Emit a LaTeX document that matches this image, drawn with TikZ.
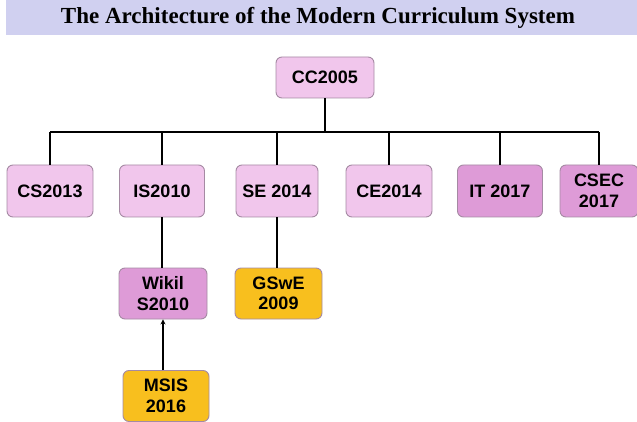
\documentclass[tikz,border=0pt]{standalone}
\usepackage{fontspec}
\setmainfont{Liberation Serif}
\setsansfont{Liberation Sans}
\usetikzlibrary{arrows.meta}
\definecolor{band}{HTML}{D0D0F0}
\definecolor{pinklight}{HTML}{F1C6EC}
\definecolor{pinkdark}{HTML}{DE9BD7}
\definecolor{amber}{HTML}{F8BF1E}
\definecolor{boxline}{HTML}{A58AA3}
\tikzset{
  unit/.style={draw=boxline, line width=0.9pt, rounded corners=6pt, align=center,
    font=\sffamily\bfseries\fontsize{18}{20.5}\selectfont, inner sep=0pt,
    minimum height=52pt, text=black},
  std/.style={unit, fill=pinklight},
  newer/.style={unit, fill=pinkdark},
  grad/.style={unit, fill=amber},
  link/.style={black, line width=2pt},
}
\begin{document}
\begin{tikzpicture}[x=1pt,y=-1pt]
\useasboundingbox (0,0) rectangle (637,422);
% title band
\fill[band] (6,0) rectangle (637,35);
\node[font=\bfseries\fontsize{23}{26}\selectfont] (title) at (318,18) {The Architecture of the Modern Curriculum System};
% root
\node[std, minimum width=98pt, minimum height=41pt] (cc) at (325,77.5) {CC2005};
% second level
\node[std, minimum width=86pt] (cs) at (50,191) {CS2013};
\node[std, minimum width=85pt] (is) at (162,191) {IS2010};
\node[std, minimum width=82pt] (se) at (277,191) {SE 2014};
\node[std, minimum width=86pt] (ce) at (389,191) {CE2014};
\node[newer, minimum width=85pt] (it) at (500,191) {IT 2017};
\node[newer, minimum width=78pt] (csec) at (599,191) {CSEC\\2017};
% third level
\node[newer, minimum width=88pt, minimum height=51pt] (wiki) at (163,293.5) {Wikil\\S2010};
\node[grad, minimum width=87pt, minimum height=51pt] (gswe) at (278.5,293.5) {GSwE\\2009};
\node[grad, minimum width=86pt, minimum height=51pt] (msis) at (166,396) {MSIS\\2016};
% bus
\coordinate (bus) at (0,132);
\draw[link] (cc.south) -- (cc.south |- bus);
\draw[link] (cs.north |- bus) -- (csec.north |- bus);
\foreach \n in {cs,is,se,ce,it,csec}
  \draw[link] (\n.north |- bus) -- (\n.north);
% lower links
\draw[link] (is.south) -- (is.south |- wiki.north);
\draw[link] (se.south) -- (se.south |- gswe.north);
\draw[link, -{Stealth[length=5pt,width=5pt]}] (msis.north -| wiki.south) -- (wiki.south);
\end{tikzpicture}
\end{document}
